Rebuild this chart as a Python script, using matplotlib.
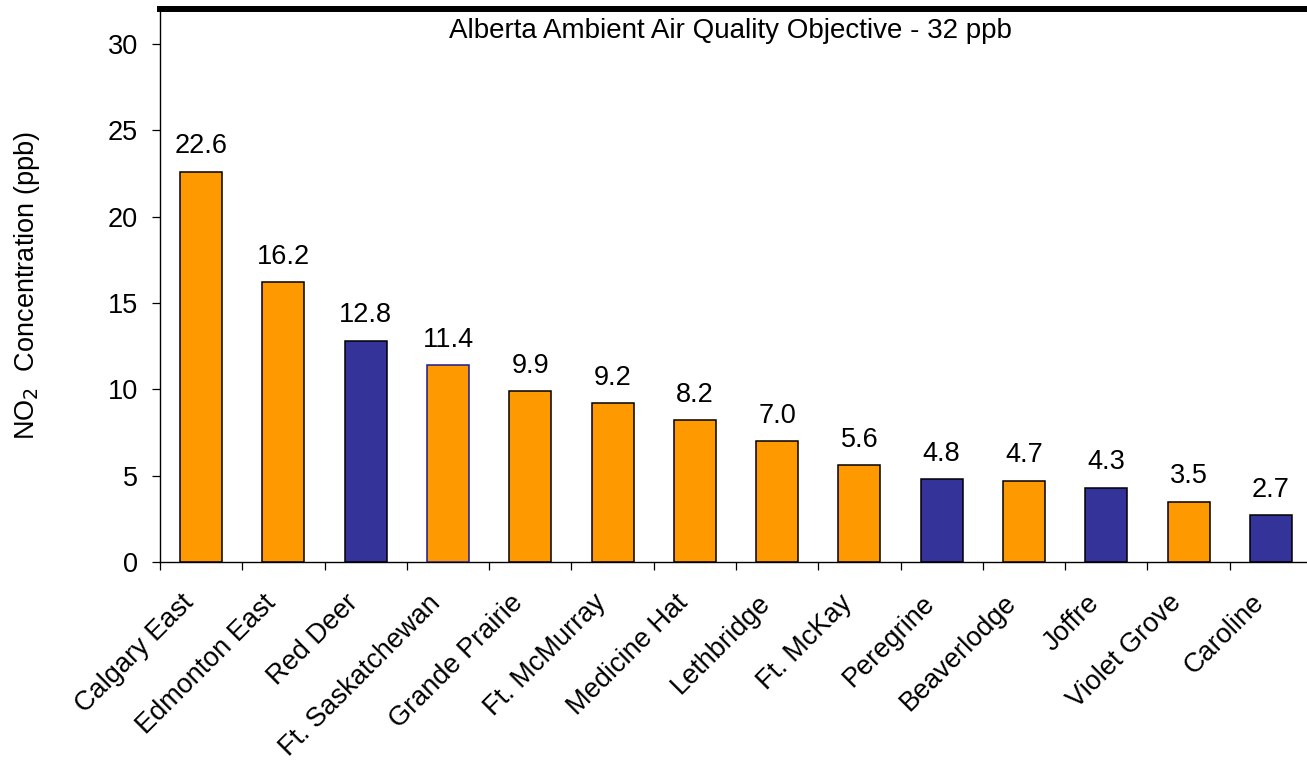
import matplotlib
matplotlib.use("Agg")
import matplotlib.pyplot as plt
import matplotlib.transforms as mtransforms

stations = ["Calgary East", "Edmonton East", "Red Deer", "Ft. Saskatchewan",
            "Grande Prairie", "Ft. McMurray", "Medicine Hat", "Lethbridge",
            "Ft. McKay", "Peregrine", "Beaverlodge", "Joffre", "Violet Grove",
            "Caroline"]
values = [22.6, 16.2, 12.8, 11.4, 9.9, 9.2, 8.2, 7.0, 5.6, 4.8, 4.7, 4.3, 3.5, 2.7]
station_type = ["urban", "urban", "rural", "urban", "urban", "urban", "urban",
                "urban", "urban", "rural", "urban", "rural", "urban", "rural"]
objective = 32
yticks = [0, 5, 10, 15, 20, 25, 30]

ORANGE = "#FF9900"
NAVY = "#333399"
FS = 19.5

plt.rcParams['font.family'] = ['Liberation Sans', 'DejaVu Sans']

fig = plt.figure(figsize=(13.07, 7.61), dpi=100)
ax = fig.add_axes([0.1224, 0.2615, 0.8814, 0.7261])

x = list(range(len(stations)))
colors = [ORANGE if t == "urban" else NAVY for t in station_type]
edges = ["#000000"] * len(stations)
edges[3] = "#1a1a99"
ax.bar(x, values, width=0.51, color=colors, edgecolor=edges, linewidth=1.1, zorder=3)

for xi, v in zip(x, values):
    ax.annotate(f"{v:.1f}", (xi, v), xytext=(0, 9), textcoords="offset points",
                ha="center", va="bottom", fontsize=FS)

ax.set_xlim(-0.5, len(stations) - 0.5)
ax.set_ylim(0, objective)
ax.axhline(objective, color="black", linewidth=4.3, zorder=5, clip_on=False)
trans = mtransforms.blended_transform_factory(ax.transAxes, ax.transData)
ax.text(0.495, 30.35, "Alberta Ambient Air Quality Objective - 32 ppb",
        transform=trans, ha="center", va="baseline", fontsize=20)

ax.set_yticks(yticks)
ax.set_yticklabels([str(t) for t in yticks], fontsize=FS)
ax.set_xticks([i - 0.5 for i in x] + [len(stations) - 0.5])
ax.set_xticklabels([])
ax.tick_params(axis="x", which="major", length=5.8, width=0.9, direction="out")
ax.tick_params(axis="y", length=5.8, width=0.9, direction="out", pad=10)

# category labels, rotated 45 degrees, right end just left of each category centre
lab_trans = ax.get_xaxis_transform() + mtransforms.ScaledTranslation(
    -11 / 100, -37 / 100, fig.dpi_scale_trans)
for xi, name in zip(x, stations):
    ax.text(xi, 0, name, transform=lab_trans, rotation=45, ha="right",
            va="center", rotation_mode="anchor", fontsize=FS, clip_on=False)

for s in ["top", "right"]:
    ax.spines[s].set_visible(False)
ax.spines["left"].set_linewidth(1.0)
ax.spines["bottom"].set_linewidth(1.0)

fig.text(27 / 1307, 1 - 286 / 761, "NO$_2$  Concentration (ppb)", rotation=90,
         ha="center", va="center", fontsize=FS)

fig.savefig("out.png", dpi=100)
